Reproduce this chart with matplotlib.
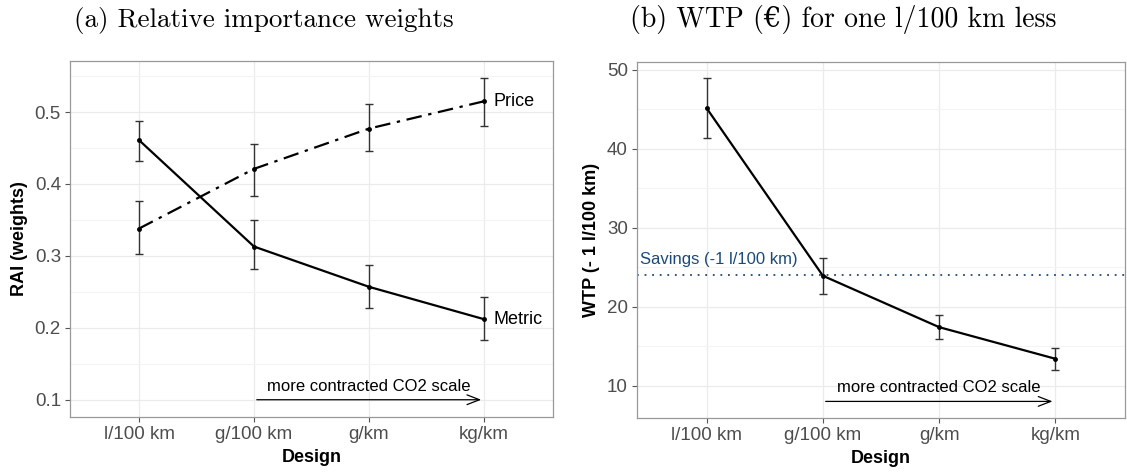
import matplotlib.pyplot as plt
import numpy as np

# data
designs = ['l/100 km', 'g/100 km', 'g/km', 'kg/km']
metric = [0.461, 0.313, 0.257, 0.212]
metric_lo = [0.432, 0.282, 0.227, 0.183]
metric_hi = [0.487, 0.350, 0.288, 0.243]
price = [0.338, 0.421, 0.477, 0.515]
price_lo = [0.303, 0.383, 0.446, 0.481]
price_hi = [0.377, 0.456, 0.511, 0.548]

wtp = [45.1, 23.9, 17.4, 13.4]
wtp_lo = [41.3, 21.6, 15.9, 12.0]
wtp_hi = [48.9, 26.2, 18.9, 14.8]
savings = 24.0

plt.rcParams['font.family'] = ['Liberation Sans', 'DejaVu Sans']

fig = plt.figure(figsize=(11.27, 4.72), dpi=100)
ax1 = fig.add_axes([70/1127, 55/472, 483/1127, 356/472])
ax2 = fig.add_axes([637/1127, 54/472, 488/1127, 356/472])

x = np.arange(1, len(designs) + 1)
grey_txt = '#4D4D4D'


def style(ax, ylim, major, minor):
    ax.set_xlim(0.4, 4.6)
    ax.set_ylim(*ylim)
    ax.set_xticks(x)
    ax.set_xticklabels(designs)
    ax.set_yticks(major)
    ax.set_yticks(minor, minor=True)
    ax.grid(True, which='major', color='#EBEBEB', lw=0.9)
    ax.grid(True, which='minor', axis='y', color='#F4F4F4', lw=0.8)
    ax.set_axisbelow(True)
    ax.tick_params(which='major', length=3.5, width=0.8, color='#555555',
                   labelsize=13.5, labelcolor=grey_txt, pad=3)
    ax.tick_params(which='minor', length=0)
    for s in ax.spines.values():
        s.set_color('#999999')
        s.set_linewidth(0.9)
    ax.set_xlabel('Design', fontsize=13, fontweight='bold', labelpad=4)


def errs(vals, lo, hi):
    return [np.array(vals) - np.array(lo), np.array(hi) - np.array(vals)]


eb = dict(fmt='o', ms=2.5, color='black', ecolor='#333333', elinewidth=1,
          capsize=2.7, capthick=1)
arrow = dict(arrowstyle='->,head_length=0.9,head_width=0.35', color='black', lw=0.9)

# (a) relative importance weights
ax1.plot(x, metric, color='black', lw=1.6)
ax1.plot(x, price, color='black', lw=1.6, ls=(0, (7, 3, 1.5, 3)))
ax1.errorbar(x, metric, yerr=errs(metric, metric_lo, metric_hi), **eb)
ax1.errorbar(x, price, yerr=errs(price, price_lo, price_hi), **eb)
ax1.text(4.08, price[-1], 'Price', va='center', ha='left', fontsize=13)
ax1.text(4.08, metric[-1], 'Metric', va='center', ha='left', fontsize=13)
ax1.annotate('', xy=(4, 0.1), xytext=(2, 0.1), arrowprops=arrow)
ax1.text(3, 0.118, 'more contracted CO2 scale', ha='center', va='center', fontsize=12)
style(ax1, (0.076, 0.571), [0.1, 0.2, 0.3, 0.4, 0.5], [0.15, 0.25, 0.35, 0.45, 0.55])
ax1.set_ylabel('RAI (weights)', fontsize=13, fontweight='bold', labelpad=5)

# (b) WTP
ax2.axhline(savings, color='#1B4A7A', lw=1.3, ls=(0, (1, 3.2)))
ax2.text(0.43, savings + 1.0, 'Savings (-1 l/100 km)', color='#1B4A7A',
         fontsize=12, va='bottom', ha='left')
ax2.plot(x, wtp, color='black', lw=1.6)
ax2.errorbar(x, wtp, yerr=errs(wtp, wtp_lo, wtp_hi), **eb)
ax2.annotate('', xy=(4, 8.0), xytext=(2, 8.0), arrowprops=arrow)
ax2.text(3, 9.8, 'more contracted CO2 scale', ha='center', va='center', fontsize=12)
style(ax2, (5.9, 50.96), [10, 20, 30, 40, 50], [15, 25, 35, 45])
ax2.set_ylabel('WTP (- 1 l/100 km)', fontsize=13, fontweight='bold', labelpad=5)

# panel titles in a LaTeX-like serif
tfont = ['cmr10', 'DejaVu Serif']
fig.text(264/1127, 1 - 20/472, '(a) Relative importance weights',
         ha='center', va='center', fontsize=19.5, family=tfont)
fig.text(843/1127, 1 - 20/472, '(b) WTP (\u20ac) for one l/100 km less',
         ha='center', va='center', fontsize=20, family=tfont)

fig.savefig('out.png', dpi=100)
